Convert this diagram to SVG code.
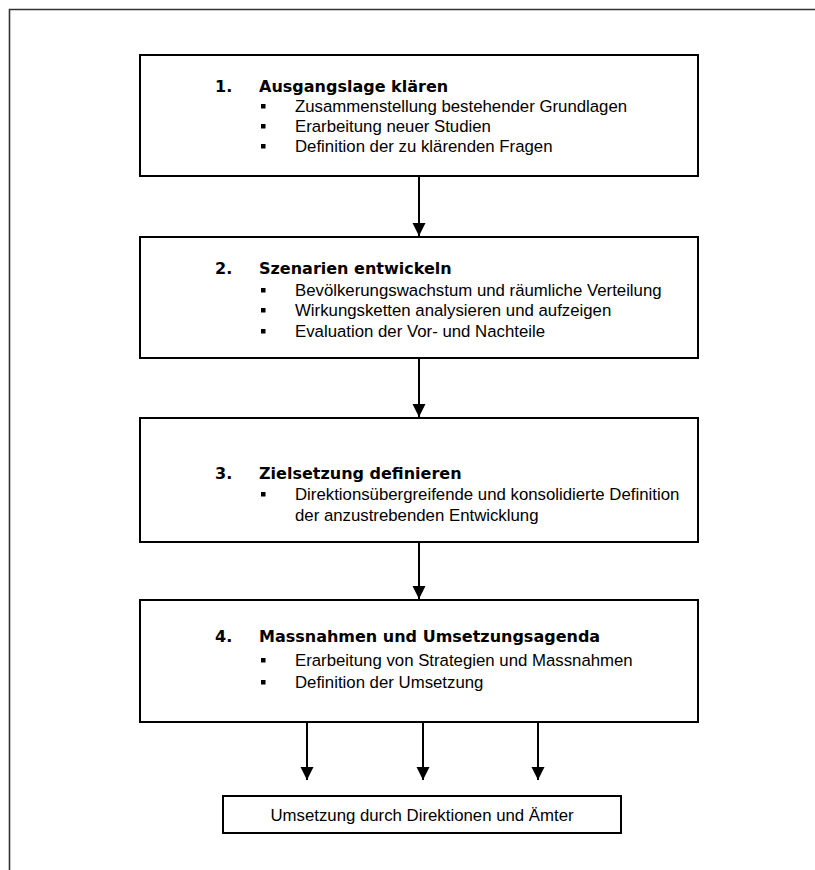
<svg xmlns="http://www.w3.org/2000/svg" width="815" height="870" viewBox="0 0 815 870">
<style>
.box{fill:#fff;stroke:#000;stroke-width:2}
.t{font-family:"DejaVu Sans","Liberation Sans",sans-serif;font-weight:bold;font-size:16px;fill:#000}
.b{font-family:"Liberation Sans",Arial,sans-serif;font-size:16.8px;fill:#000}
.conn{stroke:#000;stroke-width:2;fill:none}
.frame{stroke:#333;stroke-width:1.6;fill:none}
</style>
<defs>
<marker id="ah" markerUnits="userSpaceOnUse" markerWidth="14" markerHeight="14" refX="13" refY="7" orient="auto" viewBox="0 0 14 14">
<path d="M0,0.5 L13,7 L0,13.5 Z" fill="#000"/>
</marker>
<symbol id="sq" overflow="visible"><rect x="0" y="0" width="4.5" height="4.5" fill="#000"/></symbol>
</defs>
<path class="frame" d="M9.5,870 V9.5 H815"/>
<g id="node1">
<rect class="box" x="140" y="55" width="558" height="121"/>
<text class="t" x="215" y="92">1.</text>
<text class="t" x="259" y="92">Ausgangslage klären</text>
<use href="#sq" x="261" y="104"/><text class="b" x="295" y="112">Zusammenstellung bestehender Grundlagen</text>
<use href="#sq" x="261" y="124"/><text class="b" x="295" y="132">Erarbeitung neuer Studien</text>
<use href="#sq" x="261" y="144"/><text class="b" x="295" y="152">Definition der zu klärenden Fragen</text>
</g>
<g id="node2">
<rect class="box" x="140" y="237" width="558" height="121"/>
<text class="t" x="215" y="274">2.</text>
<text class="t" x="259" y="274">Szenarien entwickeln</text>
<use href="#sq" x="261" y="288"/><text class="b" x="295" y="296">Bevölkerungswachstum und räumliche Verteilung</text>
<use href="#sq" x="261" y="308"/><text class="b" x="295" y="316">Wirkungsketten analysieren und aufzeigen</text>
<use href="#sq" x="261" y="329"/><text class="b" x="295" y="337">Evaluation der Vor- und Nachteile</text>
</g>
<g id="node3">
<rect class="box" x="140" y="418" width="558" height="124"/>
<text class="t" x="215" y="479">3.</text>
<text class="t" x="259" y="479">Zielsetzung definieren</text>
<use href="#sq" x="261" y="492"/><text class="b" x="295" y="500">Direktionsübergreifende und konsolidierte Definition</text>
<text class="b" x="295" y="521">der anzustrebenden Entwicklung</text>
</g>
<g id="node4">
<rect class="box" x="140" y="600" width="558" height="122"/>
<text class="t" x="215" y="642">4.</text>
<text class="t" x="259" y="642">Massnahmen und Umsetzungsagenda</text>
<use href="#sq" x="261" y="658"/><text class="b" x="295" y="666">Erarbeitung von Strategien und Massnahmen</text>
<use href="#sq" x="261" y="680"/><text class="b" x="295" y="688">Definition der Umsetzung</text>
</g>
<g id="node5">
<rect class="box" x="223" y="796" width="398" height="37"/>
<text class="b" x="422" y="821" text-anchor="middle">Umsetzung durch Direktionen und Ämter</text>
</g>
<g id="connectors">
<line class="conn" x1="419" y1="176" x2="419" y2="236" marker-end="url(#ah)"/>
<line class="conn" x1="419" y1="358" x2="419" y2="417" marker-end="url(#ah)"/>
<line class="conn" x1="419" y1="542" x2="419" y2="599" marker-end="url(#ah)"/>
<line class="conn" x1="307" y1="722" x2="307" y2="780" marker-end="url(#ah)"/>
<line class="conn" x1="423" y1="722" x2="423" y2="780" marker-end="url(#ah)"/>
<line class="conn" x1="538" y1="722" x2="538" y2="780" marker-end="url(#ah)"/>
</g>
</svg>
